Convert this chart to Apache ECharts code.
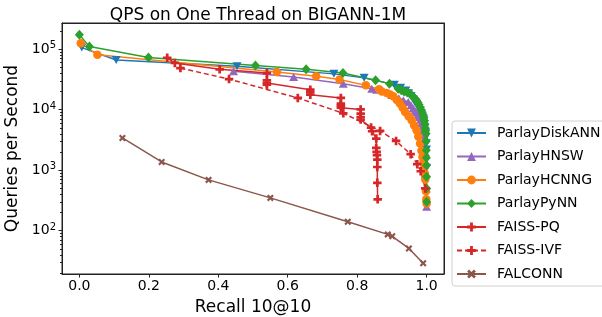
<!DOCTYPE html>
<html>
<head>
<meta charset="utf-8">
<script src="https://cdn.jsdelivr.net/npm/echarts@6/dist/echarts.min.js"></script>
<style>
html, body { margin: 0; padding: 0; background: #fff; }
#chart { width: 602px; height: 317px; }
</style>
</head>
<body>
<div id="chart"></div>
<script>
// values (recall 10@10, queries per second)
var diskannRecall = [0.007, 0.106, 0.454, 0.733, 0.820, 0.907, 0.925, 0.940, 0.948, 0.955, 0.961, 0.966, 0.971, 0.975, 0.978, 0.981, 0.984, 0.987, 0.990, 0.992, 0.994, 0.995, 0.997, 0.998, 0.999, 0.9995, 1.0];
var diskannQps    = [106000, 66000, 51900, 39000, 33500, 25900, 23000, 20800, 18700, 16800, 15000, 13400, 12400, 11400, 10500, 9750, 8800, 8000, 7300, 6670, 5800, 5000, 4200, 3550, 2800, 2200, 1100];

var hnswRecall = [0.444, 0.617, 0.760, 0.842, 0.856, 0.900, 0.920, 0.933, 0.947, 0.955, 0.961, 0.966, 0.970, 0.975, 0.979, 0.982, 0.985, 0.988, 0.990, 0.992, 0.994, 0.996, 0.997, 0.998, 0.999, 1.0];
var hnswQps    = [42900, 34500, 26900, 22200, 21400, 17500, 15500, 14300, 13400, 11800, 10600, 9700, 9000, 8200, 7570, 6800, 6000, 5200, 4570, 3800, 3200, 2000, 1400, 880, 500, 248];

var hcnngRecall = [0.004, 0.052, 0.569, 0.682, 0.749, 0.825, 0.863, 0.871, 0.885, 0.895, 0.904, 0.914, 0.923, 0.931, 0.938, 0.948, 0.957, 0.964, 0.971, 0.976, 0.981, 0.985, 0.988, 0.991, 0.993, 0.995, 0.996, 0.998, 0.999, 1.0];
var hcnngQps    = [125000, 80700, 41800, 35500, 31600, 25200, 21700, 20000, 18800, 17800, 16600, 14500, 12600, 10800, 9150, 7800, 6670, 5500, 4570, 3600, 2750, 2100, 1660, 1350, 1100, 880, 700, 450, 330, 283];

var pynnRecall = [0.0, 0.029, 0.199, 0.507, 0.653, 0.759, 0.853, 0.893, 0.918, 0.927, 0.935, 0.944, 0.952, 0.957, 0.962, 0.967, 0.971, 0.975, 0.978, 0.982, 0.985, 0.988, 0.990, 0.992, 0.993, 0.995, 0.996, 0.997, 0.998, 0.9985, 0.999, 0.9993, 0.9995, 0.9998, 1.0, 1.0];
var pynnQps    = [173000, 110000, 73000, 53800, 46300, 40200, 30500, 26900, 22200, 21000, 20000, 19200, 18400, 17300, 16200, 15200, 14300, 13100, 12000, 10800, 9770, 8800, 8000, 7300, 6690, 5800, 5000, 4500, 4030, 3000, 2140, 1600, 1200, 776, 500, 300];

var pqRecall = [0.253, 0.275, 0.404, 0.540, 0.540, 0.540, 0.540, 0.665, 0.665, 0.665, 0.753, 0.753, 0.753, 0.753, 0.810, 0.810, 0.810, 0.810, 0.840, 0.843, 0.855, 0.855, 0.856, 0.857, 0.858, 0.858, 0.858, 0.859];
var pqQps    = [72000, 59200, 46300, 40200, 30500, 27500, 25900, 21400, 19500, 17700, 15600, 12600, 11700, 10800, 10100, 8600, 7560, 6860, 5060, 4400, 3330, 2330, 2000, 1770, 1500, 1130, 620, 330];

var ivfRecall = [0.291, 0.431, 0.629, 0.760, 0.866, 0.912, 0.954, 0.973, 0.983, 0.996];
var ivfQps    = [48600, 32000, 15600, 8710, 4450, 3040, 1840, 1257, 961, 499];

var falconnRecall = [0.124, 0.237, 0.372, 0.550, 0.773, 0.888, 0.901, 0.949, 0.990];
var falconnQps    = [3410, 1370, 692, 349, 141, 87, 81, 51, 29];

var xTicks = [0, 0.2, 0.4, 0.6, 0.8, 1.0];
var yTicks = [100, 1000, 10000, 100000];
var yMinorTicks = [20, 30, 40, 50, 60, 70, 80, 90, 200, 300, 400, 500, 600, 700, 800, 900,
  2000, 3000, 4000, 5000, 6000, 7000, 8000, 9000, 20000, 30000, 40000, 50000, 60000, 70000, 80000, 90000, 200000];

function pairs(xs, ys) {
  var out = [];
  for (var i = 0; i < xs.length; i++) out.push([xs[i], ys[i]]);
  return out;
}

var downTri = 'path://M0,0H10L5,8.66Z';
var upTri = 'path://M5,0L10,8.66H0Z';
var plusSym = 'path://M3.4,0H6.6V3.4H10V6.6H6.6V10H3.4V6.6H0V3.4H3.4Z';
var xSym = 'path://M0,2.2L2.2,0L5,2.8L7.8,0L10,2.2L7.2,5L10,7.8L7.8,10L5,7.2L2.2,10L0,7.8L2.8,5Z';

function mkSeries(name, xs, ys, color, symbol, size, dashed) {
  return {
    name: name,
    type: 'line',
    data: pairs(xs, ys),
    symbol: symbol,
    symbolSize: size,
    showSymbol: true,
    lineStyle: { color: color, width: 1.5, type: dashed ? [5, 3] : 'solid' },
    itemStyle: { color: color, borderWidth: 0 },
    emphasis: { disabled: true }
  };
}

var chart = echarts.init(document.getElementById('chart'), null, { renderer: 'canvas' });
var font = 'DejaVu Sans';
var frame = { show: true, onZero: false, lineStyle: { color: '#222', width: 1 } };

var option = {
  animation: false,
  textStyle: { fontFamily: font },
  title: {
    text: 'QPS on One Thread on BIGANN-1M',
    left: 253,
    textAlign: 'center',
    top: 2,
    textStyle: { fontFamily: font, fontSize: 17, fontWeight: 'normal', color: '#000' }
  },
  grid: { left: 62, top: 23, width: 382, height: 251, outerBoundsMode: 'none',
    show: true, borderColor: '#222', borderWidth: 1, backgroundColor: '#fff' },
  legend: {
    orient: 'vertical',
    left: 452,
    top: 121,
    padding: [5, 8, 5, 4],
    itemWidth: 29,
    itemHeight: 11,
    itemGap: 9.5,
    borderColor: '#d0d0d0',
    borderWidth: 1,
    borderRadius: 3,
    backgroundColor: '#fff',
    textStyle: { fontFamily: font, fontSize: 14, color: '#000', padding: [0, 0, 0, 6] },
    data: ['ParlayDiskANN', 'ParlayHNSW', 'ParlayHCNNG', 'ParlayPyNN', 'FAISS-PQ', 'FAISS-IVF', 'FALCONN']
  },
  xAxis: [{
    type: 'value',
    min: -0.05,
    max: 1.05,
    name: 'Recall 10@10',
    nameLocation: 'middle',
    nameGap: 25,
    nameTextStyle: { fontFamily: font, fontSize: 17, color: '#000' },
    axisLine: frame,
    axisTick: { show: true, length: 3.5, inside: false, customValues: xTicks, lineStyle: { color: '#222' } },
    axisLabel: {
      customValues: xTicks, margin: 5, fontFamily: font, fontSize: 14, color: '#000',
      formatter: function (v) { return v.toFixed(1); }
    },
    splitLine: { show: false }
  }, {
    type: 'value',
    position: 'top',
    min: -0.05,
    max: 1.05,
    axisLine: frame,
    axisTick: { show: false },
    axisLabel: { show: false },
    splitLine: { show: false }
  }],
  yAxis: [{
    type: 'log',
    min: 19.3,
    max: 270000,
    name: 'Queries per Second',
    nameLocation: 'middle',
    nameGap: 35,
    nameTextStyle: { fontFamily: font, fontSize: 17, color: '#000' },
    axisLine: frame,
    axisTick: { show: true, length: 3.5, customValues: yTicks, lineStyle: { color: '#222' } },
    axisLabel: {
      customValues: yTicks, margin: 6, fontFamily: font, fontSize: 14, color: '#000',
      formatter: function (v) { return '10{sup|' + Math.round(Math.log10(v)) + '}'; },
      rich: { sup: { fontFamily: font, fontSize: 10, padding: [0, 0, 7, 0], color: '#000' } }
    },
    splitLine: { show: false }
  }, {
    type: 'log',
    min: 19.3,
    max: 270000,
    position: 'left',
    axisLine: { show: false, onZero: false },
    axisTick: { show: true, length: 2, customValues: yMinorTicks, lineStyle: { color: '#222' } },
    axisLabel: { show: false },
    splitLine: { show: false }
  }, {
    type: 'log',
    min: 19.3,
    max: 270000,
    position: 'right',
    axisLine: frame,
    axisTick: { show: false },
    axisLabel: { show: false },
    splitLine: { show: false }
  }],
  series: [
    mkSeries('ParlayDiskANN', diskannRecall, diskannQps, '#1f77b4', downTri, [9, 8], false),
    mkSeries('ParlayHNSW', hnswRecall, hnswQps, '#9467bd', upTri, [9, 8], false),
    mkSeries('ParlayHCNNG', hcnngRecall, hcnngQps, '#ff7f0e', 'circle', 8.5, false),
    mkSeries('ParlayPyNN', pynnRecall, pynnQps, '#2ca02c', 'diamond', [9, 10], false),
    mkSeries('FAISS-PQ', pqRecall, pqQps, '#d62728', plusSym, 8.5, false),
    mkSeries('FAISS-IVF', ivfRecall, ivfQps, '#d62728', plusSym, 8.5, true),
    mkSeries('FALCONN', falconnRecall, falconnQps, '#8c564b', xSym, 7, false)
  ]
};
chart.setOption(option);
</script>
</body>
</html>
